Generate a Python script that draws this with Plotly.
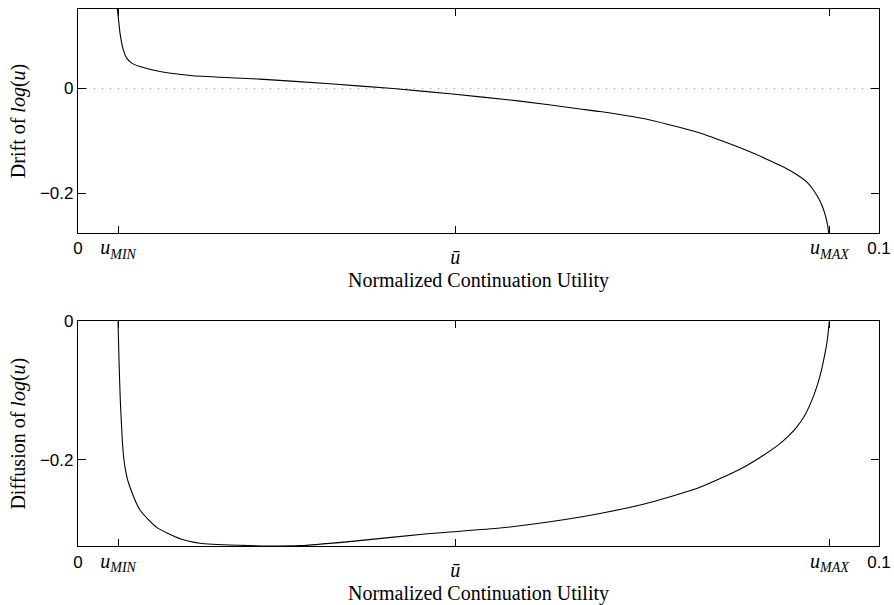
import plotly.graph_objects as go

# ---- data ----
u_min = 0.005
u_bar = 0.0471
u_max = 0.0938

drift_u = [0.004869, 0.004931, 0.005081, 0.005243, 0.005655, 0.006080, 0.006704,
           0.007740, 0.010237, 0.014357, 0.022722, 0.03146, 0.03933, 0.04644,
           0.05518, 0.06267, 0.06517, 0.07141, 0.07765, 0.08177, 0.08389,
           0.08598, 0.087640, 0.088889, 0.090137, 0.091011, 0.091760, 0.092385,
           0.092884, 0.093258, 0.093571, 0.093795]
drift_v = [0.175, 0.150, 0.129, 0.106, 0.074, 0.058, 0.0486,
           0.042, 0.0325, 0.0243, 0.018, 0.009, 0.0, -0.010,
           -0.024, -0.039, -0.044, -0.060, -0.085, -0.108, -0.121,
           -0.135, -0.1465, -0.1565, -0.1685, -0.179, -0.193, -0.208,
           -0.2235, -0.240, -0.260, -0.284]

diff_u = [0.004994, 0.005119, 0.005281, 0.005531, 0.005743, 0.006055, 0.006492,
          0.007740, 0.009825, 0.012734, 0.015231, 0.020225, 0.023970, 0.027715,
          0.033546, 0.043945, 0.052684, 0.058926, 0.065169, 0.071411, 0.077653,
          0.082647, 0.085144, 0.087640, 0.088639, 0.089725, 0.090762, 0.091798,
          0.092385, 0.092846, 0.093196, 0.093471, 0.093658, 0.093795]
diff_v = [0.0, -0.056, -0.114, -0.172, -0.201, -0.2227, -0.240,
          -0.273, -0.298, -0.3145, -0.321, -0.324, -0.325, -0.3245,
          -0.319, -0.307, -0.299, -0.290, -0.278, -0.262, -0.240,
          -0.214, -0.197, -0.177, -0.1665, -0.153, -0.1355, -0.109,
          -0.089, -0.069, -0.050, -0.033, -0.016, 0.0]

zero_x = [0.0, 0.1]
zero_y = [0.0, 0.0]

serif = "Liberation Serif"
sans = "Liberation Sans"

x_tick_vals = [0.0, u_min, u_bar, u_max, 0.1]
x_tick_text = ["0",
               "<span style='font-family:Liberation Serif;font-size:20px'><i>u</i><sub><i>MIN</i></sub></span>",
               "",
               "<span style='font-family:Liberation Serif;font-size:20px'><i>u</i><sub><i>MAX</i></sub></span>",
               "0.1"]
bar_tick_text = ["<i>ū</i>"]

top_y_vals = [-0.2, 0.0]
top_y_text = ["\u22120.2", "0"]
bot_y_vals = [-0.2, 0.0]
bot_y_text = ["\u22120.2", "0"]

x_range = [0.0, 0.1]
top_range = [-0.276, 0.152]
bot_range = [-0.325, 0.0]

x_title = "Normalized Continuation Utility"
top_title = "Drift of <i>log</i>(<i>u</i>)"
bot_title = "Diffusion of <i>log</i>(<i>u</i>)"

# ---- figure ----
fig = go.Figure()
line_style = dict(color="black", width=1.1, shape="spline", smoothing=0.6)

fig.add_trace(go.Scatter(x=zero_x, y=zero_y, mode="lines", xaxis="x", yaxis="y",
                         line=dict(color="#8a8a8a", width=1, dash="1px,7px"),
                         hoverinfo="skip", showlegend=False))
fig.add_trace(go.Scatter(x=drift_u, y=drift_v, mode="lines", xaxis="x", yaxis="y",
                         line=line_style, showlegend=False))
fig.add_trace(go.Scatter(x=diff_u, y=diff_v, mode="lines", xaxis="x2", yaxis="y2",
                         line=line_style, showlegend=False))
# invisible carriers so the overlay axes holding the u-bar label are drawn
fig.add_trace(go.Scatter(x=[u_bar], y=[0.0], mode="none", xaxis="x3", yaxis="y",
                         hoverinfo="skip", showlegend=False))
fig.add_trace(go.Scatter(x=[u_bar], y=[-0.2], mode="none", xaxis="x4", yaxis="y2",
                         hoverinfo="skip", showlegend=False))

common_x = dict(range=x_range, tickmode="array", tickvals=x_tick_vals, ticktext=x_tick_text,
                ticks="inside", ticklen=7, tickwidth=1, tickcolor="black",
                showline=True, linecolor="black", linewidth=1.3, mirror="ticks",
                showgrid=False, zeroline=False, automargin=False,
                tickfont=dict(family=sans, size=17, color="black"),
                title=dict(text=x_title, font=dict(family=serif, size=20, color="black"),
                           standoff=12))
common_y = dict(tickmode="array", ticks="inside", ticklen=8, tickwidth=1, tickcolor="black",
                showline=True, linecolor="black", linewidth=1.3, mirror="ticks",
                showgrid=False, zeroline=False, automargin=False,
                tickfont=dict(family=sans, size=17, color="black"))
bar_axis = dict(range=x_range, tickmode="array", tickvals=[u_bar], ticktext=bar_tick_text,
                ticks="", showline=False, showgrid=False, zeroline=False, automargin=False,
                ticklabelstandoff=10, side="bottom",
                tickfont=dict(family=serif, size=20, color="black"))

fig.update_layout(
    width=894, height=605,
    margin=dict(l=78, r=15, t=9, b=59),
    plot_bgcolor="white", paper_bgcolor="white",
    xaxis=dict(common_x, domain=[0, 1], anchor="y"),
    yaxis=dict(common_y, domain=[0.583, 1.0], range=top_range,
               tickvals=top_y_vals, ticktext=top_y_text, anchor="x",
               title=dict(text=top_title, font=dict(family=serif, size=20, color="black"),
                          standoff=8)),
    xaxis2=dict(common_x, domain=[0, 1], anchor="y2"),
    yaxis2=dict(common_y, domain=[0.0, 0.4184], range=bot_range,
                tickvals=bot_y_vals, ticktext=bot_y_text, anchor="x2",
                title=dict(text=bot_title, font=dict(family=serif, size=20, color="black"),
                           standoff=8)),
    xaxis3=dict(bar_axis, overlaying="x", anchor="y"),
    xaxis4=dict(bar_axis, overlaying="x2", anchor="y2"),
)

fig.write_html("out.html")
